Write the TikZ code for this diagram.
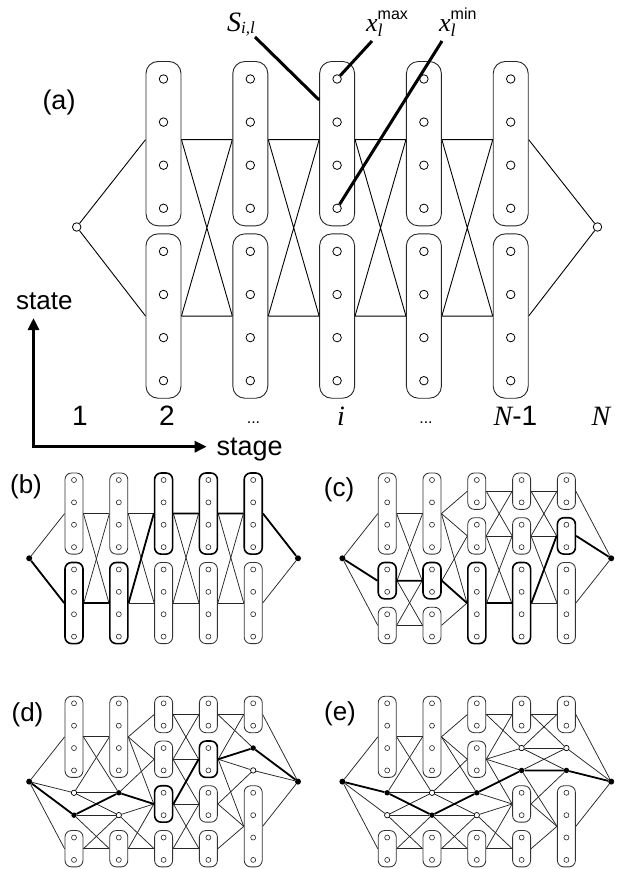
\documentclass[tikz,border=0pt]{standalone}
\usepackage{fontspec}
\setmainfont{Liberation Sans}
\newfontfamily\tms{Liberation Serif}
\usetikzlibrary{arrows.meta}
\pgfdeclarelayer{bg}
\pgfsetlayers{bg,main}
\newcommand\fs[1]{\fontsize{#1}{#1}\selectfont}

\newcommand\drawcol[3]{%
  \foreach \lA/\hA/\tA in #3 {%
    \pgfmathsetmacro\xx{(#2-1)*44.8}%
    \pgfmathsetmacro\yy{((\lA+\hA)/2-1)*22.37}%
    \pgfmathsetmacro\hh{(\hA-\lA)*22.37+14}%
    \if f\tA \node[fdot] (#1-#2-\lA) at (\xx,\yy) {};\fi
    \if h\tA \node[hdot] (#1-#2-\lA) at (\xx,\yy) {};\fi
    \if b\tA \node[sbox,minimum height=\hh pt] (#1-#2-\lA) at (\xx,\yy) {};\fi
    \if B\tA \node[sboxT,minimum height=\hh pt] (#1-#2-\lA) at (\xx,\yy) {};\fi
    \ifnum\lA<\hA
      \foreach \r in {\lA,...,\hA} {\node[sdot] (#1-#2-r\r) at (\xx,{(\r-1)*22.37}) {};}
    \fi
  }}

\newcommand\conn[4]{%
  \pgfmathtruncatemacro\cn{#2+1}%
  \foreach \lA/\hA/\tA in #3 {%
    \foreach \lB/\hB/\tB in #4 {%
      \pgfmathtruncatemacro\ok{and(\lB-\hA<2,\lA-\hB<2)}%
      \ifnum\ok=1
        \def\ea{}\if b\tA\def\ea{.east}\fi\if B\tA\def\ea{.east}\fi
        \def\wa{}\if b\tB\def\wa{.west}\fi\if B\tB\def\wa{.west}\fi
        \draw[sline] (#1-#2-\lA\ea) -- (#1-\cn-\lB\wa);
      \fi
    }}}

\newcommand\sideconn[3]{%
  \foreach \lA/\hA/\tA in #2 {%
    \def\wa{}\if b\tA\def\wa{.west}\fi\if B\tA\def\wa{.west}\fi
    \draw[sline] (#1-L) -- (#1-1-\lA\wa);}
  \foreach \lA/\hA/\tA in #3 {%
    \def\ea{}\if b\tA\def\ea{.east}\fi\if B\tA\def\ea{.east}\fi
    \draw[sline] (#1-5-\lA\ea) -- (#1-R);}}

\newcommand\panel[8]{%
  \begin{scope}[shift={(#2,#3)}]
    \node[edot] (#1-L) at (-44.8,78.3) {};
    \node[edot] (#1-R) at (224,78.3) {};
    \drawcol{#1}{1}{#4}\drawcol{#1}{2}{#5}\drawcol{#1}{3}{#6}\drawcol{#1}{4}{#7}\drawcol{#1}{5}{#8}
  \end{scope}
  \begin{pgfonlayer}{bg}
    \sideconn{#1}{#4}{#8}
    \conn{#1}{1}{#4}{#5}\conn{#1}{2}{#5}{#6}\conn{#1}{3}{#6}{#7}\conn{#1}{4}{#7}{#8}
  \end{pgfonlayer}}

\def\Bi{1/4/b,5/8/B}
\def\Bii{1/4/b,5/8/B}
\def\Biii{1/4/B,5/8/b}
\def\Biv{1/4/B,5/8/b}
\def\Bv{1/4/B,5/8/b}
\def\Ci{1/4/b,5/6/B,7/8/b}
\def\Cii{1/4/b,5/6/B,7/8/b}
\def\Ciii{1/2/b,3/4/b,5/8/B}
\def\Civ{1/2/b,3/4/b,5/8/B}
\def\Cv{1/2/b,3/4/B,5/8/b}
\def\Di{1/4/b,5/5/h,6/6/f,7/8/b}
\def\Dii{1/4/b,5/5/f,6/6/h,7/8/b}
\def\Diii{1/2/b,3/4/b,5/6/B,7/8/b}
\def\Div{1/2/b,3/4/B,5/6/b,7/8/b}
\def\Dv{1/2/b,3/3/f,4/4/h,5/8/b}
\def\Ei{1/4/b,5/5/f,6/6/h,7/8/b}
\def\Eii{1/4/b,5/5/h,6/6/f,7/8/b}
\def\Eiii{1/2/b,3/4/b,5/5/f,6/6/h,7/8/b}
\def\Eiv{1/2/b,3/3/h,4/4/f,5/6/b,7/8/b}
\def\Ev{1/2/b,3/3/h,4/4/f,5/8/b}

\begin{document}
\begin{tikzpicture}[x=1pt,y=-1pt,
  bigbox/.style={draw=black!85,line width=0.9pt,rounded corners=12pt,minimum width=35pt,minimum height=164.3pt,inner sep=0pt},
  bigdot/.style={circle,draw=black,line width=0.8pt,fill=white,minimum size=8.5pt,inner sep=0pt},
  aline/.style={line width=0.9pt,black},
  ptr/.style={line width=3pt,black},
  lab/.style={inner sep=0pt,font=\fs{28}},
  plab/.style={inner sep=0pt,font=\fs{26}},
  sbox/.style={draw=black!80,line width=0.85pt,rounded corners=6.5pt,minimum width=18pt,inner sep=0pt},
  sboxT/.style={draw=black,line width=1.6pt,rounded corners=6.5pt,minimum width=18pt,inner sep=0pt},
  sdot/.style={circle,draw=black!85,line width=0.6pt,fill=white,minimum size=5pt,inner sep=0pt},
  hdot/.style={circle,draw=black,line width=0.7pt,fill=white,minimum size=5.4pt,inner sep=0pt},
  fdot/.style={circle,fill=black,minimum size=5.4pt,inner sep=0pt},
  edot/.style={circle,fill=black,minimum size=6pt,inner sep=0pt},
  sline/.style={line width=0.75pt,black!85},
  tline/.style={line width=1.8pt,black}]
\useasboundingbox (0,0) rectangle (626,869);

% ---------------- panel (a)
\foreach \k in {1,...,5} {
  \pgfmathsetmacro\X{163.5+86.8*(\k-1)}
  \node[bigbox] (a-\k-u) at (\X,143.65) {};
  \node[bigbox] (a-\k-l) at (\X,316.05) {};
  \foreach \r in {1,...,8} {\node[bigdot] (a-\k-\r) at (\X,{79+43.1*(\r-1)}) {};}
}
\node[bigdot] (aL) at (76.7,227) {};
\node[bigdot] (aR) at (597.5,227) {};
\begin{pgfonlayer}{bg}
  \draw[aline] (aL) -- ([yshift=4pt]a-1-u.west) (aL) -- (a-1-l.west);
  \foreach \k/\n in {1/2,2/3,3/4,4/5} {
    \draw[aline] ([yshift=4pt]a-\k-u.east) -- ([yshift=4pt]a-\n-u.west)
                 ([yshift=4pt]a-\k-u.east) -- (a-\n-l.west)
                 (a-\k-l.east) -- ([yshift=4pt]a-\n-u.west)
                 (a-\k-l.east) -- (a-\n-l.west);
  }
  \draw[aline] ([yshift=4pt]a-5-u.east) -- (aR) (a-5-l.east) -- (aR);
\end{pgfonlayer}

\node[plab,font=\fs{27}] (lbla) at (59,103) {(a)};
\node[lab,anchor=base] (l1) at (80,425.5) {1};
\node[lab,anchor=base] (l2) at (167,425.5) {2};
\node[inner sep=0pt,anchor=base,font=\fs{16}] (l3) at (253.5,423) {...};
\node[lab,anchor=base] (l4) at (341,425.5) {\tms\itshape i};
\node[inner sep=0pt,anchor=base,font=\fs{16}] (l5) at (426,423) {...};
\node[lab,anchor=base] (l6) at (515.5,425.5) {{\tms\itshape N}-1};
\node[lab,anchor=base] (l7) at (601,425.5) {\tms\itshape N};

\node[anchor=base west,inner sep=0pt] (sLab) at (227,32) {\fs{28}\tms\itshape S\raisebox{-2pt}{\fs{17}i,l}};
\node[anchor=base west,inner sep=0pt] (xmaxLab) at (366,32) {\fs{26}\tms\itshape x\rlap{\raisebox{-5pt}{\fs{18}l}}\raisebox{12pt}{\normalfont\fs{16}max}};
\node[anchor=base west,inner sep=0pt] (xminLab) at (439,32) {\fs{26}\tms\itshape x\rlap{\raisebox{-5pt}{\fs{18}l}}\raisebox{12pt}{\normalfont\fs{16}min}};
\coordinate (sP) at (255,37);
\coordinate (xmaxP) at (372,41);
\coordinate (xminP) at (442,41);
\draw[ptr] (sP) -- ([yshift=43.65pt]a-3-u.west);
\draw[ptr] (xmaxP) -- (a-3-1);
\draw[ptr] (xminP) -- (a-3-4);

% axes
\coordinate (axU) at (33.5,318);
\coordinate (axO) at (33.5,446.7);
\coordinate (axR) at (206.7,446.7);
\draw[line width=3pt,{Triangle[length=12pt,width=11pt]}-{Triangle[length=12pt,width=11pt]}] (axU) -- (axO) -- (axR);
\node[anchor=base west,inner sep=0pt,font=\fs{26}] (stateLab) at (16,309) {state};
\node[anchor=base west,inner sep=0pt,font=\fs{27}] (stageLab) at (216.5,455) {stage};

% ---------------- small panels
\panel{b}{74}{480}{\Bi}{\Bii}{\Biii}{\Biv}{\Bv}
\panel{c}{387.2}{480}{\Ci}{\Cii}{\Ciii}{\Civ}{\Cv}
\panel{d}{74}{703.3}{\Di}{\Dii}{\Diii}{\Div}{\Dv}
\panel{e}{387.2}{703.3}{\Ei}{\Eii}{\Eiii}{\Eiv}{\Ev}

\begin{pgfonlayer}{bg}
\draw[tline] (b-L) -- (b-1-5.west) (b-1-5.east) -- (b-2-5.west) (b-2-5.east) -- (b-3-1.west)
  (b-3-1.east) -- (b-4-1.west) (b-4-1.east) -- (b-5-1.west) (b-5-1.east) -- (b-R);
\draw[tline] (c-L) -- (c-1-5.west) (c-1-5.east) -- (c-2-5.west) (c-2-5.east) -- (c-3-5.west)
  (c-3-5.east) -- (c-4-5.west) (c-4-5.east) -- (c-5-3.west) (c-5-3.east) -- (c-R);
\draw[tline] (d-L) -- (d-1-6) (d-1-6) -- (d-2-5) (d-2-5) -- (d-3-5.west)
  (d-3-5.east) -- (d-4-3.west) (d-4-3.east) -- (d-5-3) (d-5-3) -- (d-R);
\draw[tline] (e-L) -- (e-1-5) (e-1-5) -- (e-2-6) (e-2-6) -- (e-3-5) (e-3-5) -- (e-4-4)
  (e-4-4) -- (e-5-4) (e-5-4) -- (e-R);
\end{pgfonlayer}

\node[plab] (lblb) at (26,487) {(b)};
\node[plab] (lblc) at (339,490) {(c)};
\node[plab] (lbld) at (27.5,715) {(d)};
\node[plab] (lble) at (340,714) {(e)};
\end{tikzpicture}
\end{document}
